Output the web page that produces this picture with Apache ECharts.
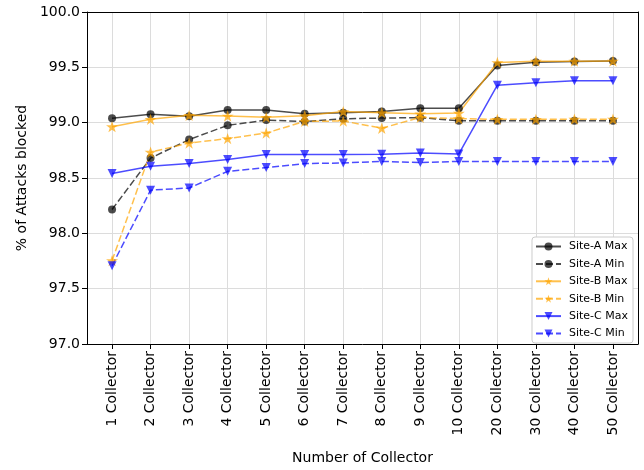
<!DOCTYPE html>
<html>
<head>
<meta charset="utf-8">
<script src="https://cdn.jsdelivr.net/npm/echarts@6/dist/echarts.min.js"></script>
<style>html,body{margin:0;padding:0;background:#fff}#c{width:644px;height:470px}</style>
</head>
<body>
<div id="c"></div>
<script>
const categories = ['1 Collector','2 Collector','3 Collector','4 Collector','5 Collector','6 Collector','7 Collector','8 Collector','9 Collector','10 Collector','20 Collector','30 Collector','40 Collector','50 Collector'];
const yTicks = [97.0, 97.5, 98.0, 98.5, 99.0, 99.5, 100.0];
const siteAMax = [99.04, 99.075, 99.057, 99.115, 99.115, 99.08, 99.09, 99.10, 99.13, 99.13, 99.516, 99.546, 99.552, 99.558];
const siteAMin = [98.216, 98.68, 98.847, 98.976, 99.023, 99.01, 99.035, 99.042, 99.045, 99.018, 99.018, 99.017, 99.017, 99.017];
const siteBMax = [98.964, 99.03, 99.066, 99.06, 99.048, 99.063, 99.1, 99.09, 99.08, 99.087, 99.543, 99.556, 99.556, 99.557];
const siteBMin = [97.753, 98.733, 98.816, 98.856, 98.906, 99.012, 99.015, 98.95, 99.048, 99.036, 99.03, 99.03, 99.032, 99.032];
const siteCMax = [98.54, 98.606, 98.63, 98.667, 98.712, 98.712, 98.712, 98.714, 98.726, 98.717, 99.339, 99.36, 99.378, 99.378];
const siteCMin = [97.708, 98.39, 98.41, 98.56, 98.595, 98.63, 98.636, 98.65, 98.64, 98.65, 98.65, 98.65, 98.65, 98.65];

const idx = categories.map((_, i) => i);
const pts = arr => arr.map((v, i) => [i, v]);
const star = 'path://M0,-1L0.2245,-0.309L0.951,-0.309L0.363,0.118L0.588,0.809L0,0.382L-0.588,0.809L-0.363,0.118L-0.951,-0.309L-0.2245,-0.309Z';
const BLACK = 'rgba(0,0,0,0.7)', ORANGE = 'rgba(255,165,0,0.7)', BLUE = 'rgba(0,0,255,0.7)';

function mk(name, data, color, dashed, symbol, size, rot) {
  return {
    name, type: 'line', data: pts(data),
    symbol, symbolSize: size, symbolRotate: rot || 0, symbolKeepAspect: true,
    showAllSymbol: true,
    lineStyle: { color, width: 1.5, type: dashed ? [7, 3] : 'solid' },
    itemStyle: { color, borderWidth: 0 },
    emphasis: { disabled: true },
    animation: false
  };
}
const frameAxis = { show: true, axisLine: { show: true, onZero: false, lineStyle: { color: '#000', width: 1 } },
  axisTick: { show: false }, axisLabel: { show: false }, splitLine: { show: false } };

const chart = echarts.init(document.getElementById('c'), null, { renderer: 'canvas' });
chart.setOption({
  animation: false,
  backgroundColor: '#fff',
  grid: { left: 87, right: 6, top: 12, bottom: 126 },
  legend: {
    orient: 'vertical', right: 11, top: 237,
    backgroundColor: '#fff', borderColor: '#cccccc', borderWidth: 1, borderRadius: 3,
    padding: [4, 5, 4, 3],
    itemWidth: 25, itemHeight: 10, itemGap: 6.4,
    textStyle: { fontFamily: 'DejaVu Sans', fontSize: 11, color: '#000', padding: [0, 0, 0, 3] },
    data: ['Site-A Max', 'Site-A Min', 'Site-B Max', 'Site-B Min', 'Site-C Max', 'Site-C Min']
  },
  xAxis: [{
    type: 'value', min: -0.65, max: 13.65,
    name: 'Number of Collector', nameLocation: 'middle', nameGap: 107,
    nameTextStyle: { fontFamily: 'DejaVu Sans', fontSize: 14, color: '#000' },
    axisLine: { show: true, onZero: false, lineStyle: { color: '#000', width: 1 } },
    axisTick: { show: true, length: 5, lineStyle: { color: '#000' }, customValues: idx },
    axisLabel: { rotate: 90, margin: 7, fontFamily: 'DejaVu Sans', fontSize: 14, color: '#000', customValues: idx,
      formatter: v => categories[Math.round(v)] },
    splitLine: { show: true, lineStyle: { color: '#dcdcdc', width: 1 } }
  }, Object.assign({ type: 'value', position: 'top', min: -0.65, max: 13.65 }, frameAxis)],
  yAxis: [{
    type: 'value', min: 97, max: 100, interval: 0.5,
    name: '% of Attacks blocked', nameLocation: 'middle', nameGap: 58,
    nameTextStyle: { fontFamily: 'DejaVu Sans', fontSize: 14, color: '#000' },
    axisLine: { show: true, onZero: false, lineStyle: { color: '#000', width: 1 } },
    axisTick: { show: true, length: 5, lineStyle: { color: '#000' } },
    axisLabel: { margin: 7, fontFamily: 'DejaVu Sans', fontSize: 14, color: '#000', formatter: v => v.toFixed(1) },
    splitLine: { show: true, lineStyle: { color: '#dcdcdc', width: 1 } }
  }, Object.assign({ type: 'value', position: 'right', min: 97, max: 100 }, frameAxis)],
  series: [
    mk('Site-A Max', siteAMax, BLACK, false, 'circle', 8),
    mk('Site-A Min', siteAMin, BLACK, true, 'circle', 8),
    mk('Site-B Max', siteBMax, ORANGE, false, star, 12),
    mk('Site-B Min', siteBMin, ORANGE, true, star, 12),
    mk('Site-C Max', siteCMax, BLUE, false, 'triangle', 9, 180),
    mk('Site-C Min', siteCMin, BLUE, true, 'triangle', 9, 180)
  ]
});
</script>
</body>
</html>
